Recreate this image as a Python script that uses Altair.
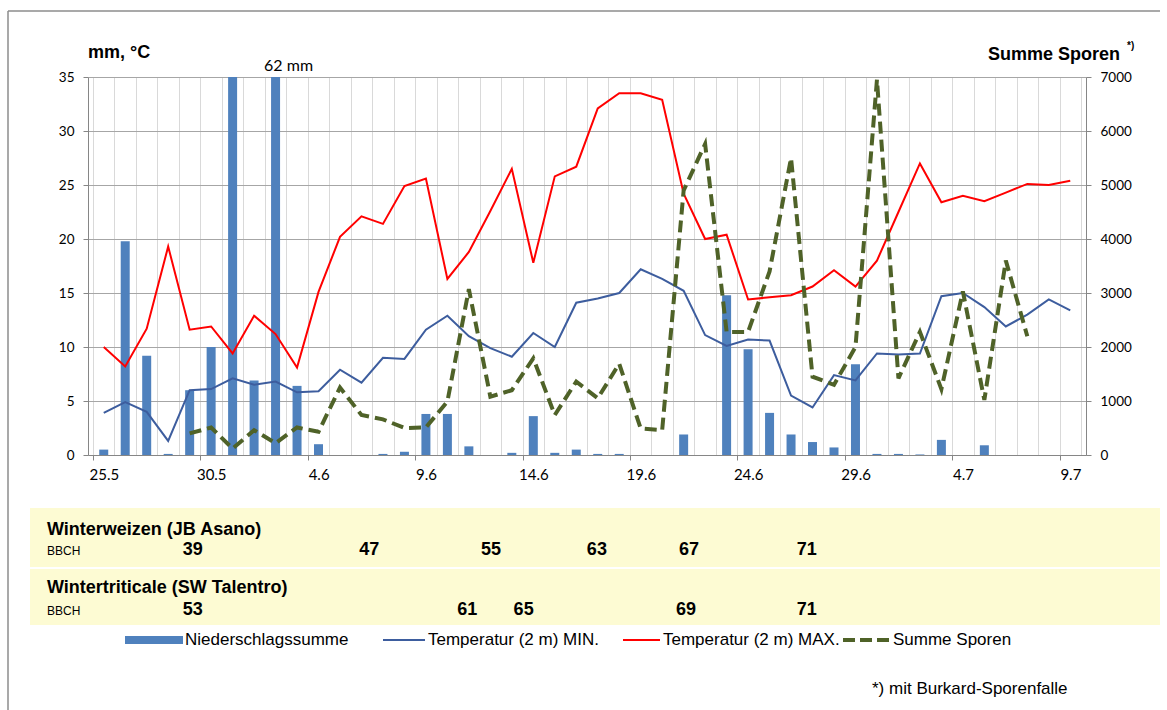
import json
import altair as alt
import pandas as pd

# ---------------- data ----------------
dates = ["25.5", "26.5", "27.5", "28.5", "29.5", "30.5", "31.5",
         "1.6", "2.6", "3.6", "4.6", "5.6", "6.6", "7.6", "8.6", "9.6", "10.6",
         "11.6", "12.6", "13.6", "14.6", "15.6", "16.6", "17.6", "18.6", "19.6",
         "20.6", "21.6", "22.6", "23.6", "24.6", "25.6", "26.6", "27.6", "28.6",
         "29.6", "30.6", "1.7", "2.7", "3.7", "4.7", "5.7", "6.7", "7.7", "8.7", "9.7"]

precip = [0.5, 19.8, 9.2, 0.1, 6.0, 10.0, 36.0, 6.9, 62.0, 6.4, 1.0, 0.0, 0.0, 0.1, 0.3,
          3.8, 3.8, 0.8, 0.0, 0.2, 3.6, 0.2, 0.5, 0.1, 0.1, 0.0, 0.0, 1.9, 0.0, 14.8,
          9.8, 3.9, 1.9, 1.2, 0.7, 8.4, 0.1, 0.1, 0.05, 1.4, 0.0, 0.9, 0.0, 0.0, 0.0, 0.0]

tmin = [3.9, 4.9, 4.0, 1.3, 6.0, 6.1, 7.1, 6.5, 6.8, 5.8, 5.9, 7.9, 6.7, 9.0, 8.9,
        11.6, 12.9, 11.0, 9.9, 9.1, 11.3, 10.0, 14.1, 14.5, 15.0, 17.2, 16.3, 15.2,
        11.1, 10.1, 10.7, 10.6, 5.5, 4.4, 7.4, 6.9, 9.4, 9.3, 9.4, 14.7, 15.0, 13.7,
        11.9, 13.0, 14.4, 13.4]

tmax = [10.0, 8.2, 11.7, 19.3, 11.6, 11.9, 9.4, 12.9, 11.2, 8.1, 15.1, 20.2, 22.1,
        21.4, 24.9, 25.6, 16.3, 18.8, 22.6, 26.5, 17.8, 25.8, 26.7, 32.1, 33.5, 33.5,
        32.9, 24.2, 20.0, 20.4, 14.4, 14.6, 14.8, 15.6, 17.1, 15.6, 18.0, 22.5, 27.0,
        23.4, 24.0, 23.5, 24.3, 25.1, 25.0, 25.4]

spores = [None, None, None, None, 400, 510, 120, 460, 220, 510, 430, 1250, 740, 660,
          500, 510, 990, 3070, 1080, 1200, 1790, 740, 1360, 1050, 1690, 490, 460, 4900,
          5760, 2280, 2280, 3400, 5500, 1450, 1300, 2000, 6950, 1420, 2280, 1220, 3030,
          1020, 3600, 2200, None, None]

annot_idx = [8]
annot_val = [62]
annot_txt = ["62 mm"]

crop_names = ["Winterweizen (JB Asano)", "Wintertriticale (SW Talentro)"]
weizen_bbch = ["39", "47", "55", "63", "67", "71"]
weizen_day = [4.15, 12.36, 18.03, 22.96, 27.25, 32.73]
trit_bbch = ["53", "61", "65", "69", "71"]
trit_day = [4.15, 16.92, 19.55, 27.11, 32.73]

legend_labels = ["Niederschlagssumme", "Temperatur (2 m) MIN.",
                 "Temperatur (2 m) MAX.", "Summe Sporen"]
left_title = "mm, °C"
right_title = "Summe Sporen"
footnote = "*) mit Burkard-Sporenfalle"

# ---------------- styling ----------------
C_BAR = "#4F81BD"
C_MIN = "#3D5D9E"
C_MAX = "#FF0000"
C_SP = "#4F6228"
C_BAND = "#FDFBD3"
C_AX = "#868686"
FONT = "Liberation Sans"
NUMFONT = "Lato"

N = len(dates)
W, H = 998, 378
BAND = W / N

df = pd.DataFrame({"idx": list(range(N)), "date": dates, "precip": precip,
                   "tmin": tmin, "tmax": tmax, "spores": spores})

label_js = json.dumps(dates)
x_axis = alt.Axis(
    values=[i - 0.5 for i in range(N + 1)],
    labelExpr=f"((datum.value + 0.5) % 5 == 0 && datum.value < {N - 1}) ? {label_js}[datum.value + 0.5] : ''",
    labelOffset=BAND / 2, labelFlush=False, labelOverlap=False,
    labelFont=NUMFONT, labelFontSize=15, labelColor="#000", labelPadding=7,
    grid=True, gridColor="#D9D9D9", gridWidth=1,
    tickSize=5, tickColor=C_AX,
    tickOpacity={"condition": {"test": "(datum.value + 0.5) % 5 == 0", "value": 1}, "value": 0},
    domainColor=C_AX, title=None)
x_enc = alt.X("idx:Q", scale=alt.Scale(domain=[-0.5, N - 0.5], nice=False, zero=False), axis=x_axis)

y_scale = alt.Scale(domain=[0, 35], clamp=True, nice=False)
y_axis = alt.Axis(values=list(range(0, 36, 5)), grid=True, gridColor="#A6A6A6",
                  tickSize=5, tickColor=C_AX, domainColor=C_AX,
                  labelFont=NUMFONT, labelFontSize=13.5, labelPadding=9,
                  labelColor="#000", title=None)

base = alt.Chart(df)

bars = base.mark_bar(size=9, color=C_BAR).encode(
    x=x_enc, y=alt.Y("precip:Q", scale=y_scale, axis=y_axis))
l_min = base.mark_line(color=C_MIN, strokeWidth=2).encode(
    x=x_enc, y=alt.Y("tmin:Q", scale=y_scale, axis=y_axis))
l_max = base.mark_line(color=C_MAX, strokeWidth=2).encode(
    x=x_enc, y=alt.Y("tmax:Q", scale=y_scale, axis=y_axis))

ann = alt.Chart(pd.DataFrame({"idx": annot_idx, "v": annot_val, "t": annot_txt})).mark_text(
    font=NUMFONT, fontSize=16, dx=13, dy=-6, baseline="alphabetic", align="center", color="#000"
).encode(x=x_enc, y=alt.Y("v:Q", scale=y_scale, axis=y_axis), text="t:N")

one = pd.DataFrame({"a": [0]})


def txt(s, x, y, size, weight="normal", align="left", baseline="alphabetic", font=FONT):
    return alt.Chart(pd.DataFrame({"t": [s]})).mark_text(
        font=font, fontSize=size, fontWeight=weight, align=align, baseline=baseline, color="#000"
    ).encode(text="t:N", x=alt.value(x), y=alt.value(y))


def rect(x, x2, y, y2, color):
    return alt.Chart(one).mark_rect(color=color).encode(
        x=alt.value(x), x2=alt.value(x2), y=alt.value(y), y2=alt.value(y2))


def hline(x, x2, y, color, width, dash=None):
    kw = dict(color=color, strokeWidth=width)
    if dash:
        kw["strokeDash"] = dash
    return alt.Chart(one).mark_rule(**kw).encode(x=alt.value(x), x2=alt.value(x2), y=alt.value(y))


def vline(x, y, y2, color, width):
    return alt.Chart(one).mark_rule(color=color, strokeWidth=width).encode(
        x=alt.value(x), y=alt.value(y), y2=alt.value(y2))


# table
band1 = rect(-58, 1072, 431, 490, C_BAND)
band2 = rect(-58, 1072, 492, 548, C_BAND)
name1 = txt(crop_names[0], -41, 458, 18, "bold")
name2 = txt(crop_names[1], -41, 516, 18, "bold")
bb1 = txt("BBCH", -41, 478, 12)
bb2 = txt("BBCH", -41, 538, 12)
row1 = alt.Chart(pd.DataFrame({"idx": weizen_day, "t": weizen_bbch})).mark_text(
    font=FONT, fontSize=18, fontWeight="bold", align="center", baseline="alphabetic", color="#000"
).encode(x=x_enc, y=alt.value(478), text="t:N")
row2 = alt.Chart(pd.DataFrame({"idx": trit_day, "t": trit_bbch})).mark_text(
    font=FONT, fontSize=18, fontWeight="bold", align="center", baseline="alphabetic", color="#000"
).encode(x=x_enc, y=alt.value(538), text="t:N")

# legend
LY = 563
leg = [
    rect(37, 95, LY - 4, LY + 4, C_BAR),
    txt(legend_labels[0], 97, LY, 17, baseline="middle"),
    hline(295, 337, LY, C_MIN, 2),
    txt(legend_labels[1], 340, LY, 17, baseline="middle"),
    hline(535, 572, LY, C_MAX, 2),
    txt(legend_labels[2], 575, LY, 17, baseline="middle"),
    hline(755, 802, LY, C_SP, 4, [12, 5]),
    txt(legend_labels[3], 805, LY, 17, baseline="middle"),
]

titles = [
    txt(left_title, 0, -19, 18, "bold"),
    txt(right_title, 1032, -17, 18, "bold", align="right"),
    txt("*)", 1039, -28, 10, "bold"),
    txt(footnote, 784, 617, 17),
]

border = [
    hline(-80, 1072, -66, "#8C8C8C", 1.5),
    vline(-80, -66, 633, "#8C8C8C", 1.5),
]

left = alt.layer(band1, band2, name1, name2, bb1, bb2, row1, row2,
                 *leg, *titles, *border, bars, l_min, l_max, ann)

sp_line = base.mark_line(color=C_SP, strokeWidth=4, strokeDash=[12, 6]).encode(
    x=x_enc,
    y=alt.Y("spores:Q", scale=alt.Scale(domain=[0, 7000], nice=False),
            axis=alt.Axis(orient="right", values=list(range(0, 7001, 1000)), grid=False,
                          format="d",
                          tickSize=5, tickColor=C_AX, domainColor=C_AX,
                          labelFont=NUMFONT, labelFontSize=13.5, labelPadding=9,
                          labelColor="#000", title=None)))

chart = alt.layer(left, sp_line).resolve_scale(y="independent").properties(
    width=W, height=H,
    padding={"left": 88, "top": 77, "right": 81, "bottom": 255},
    autosize=alt.AutoSizeParams(type="none"),
    background="white",
).configure_view(strokeWidth=0)

chart.save("out.html", embed_options={"renderer": "svg", "actions": False})
